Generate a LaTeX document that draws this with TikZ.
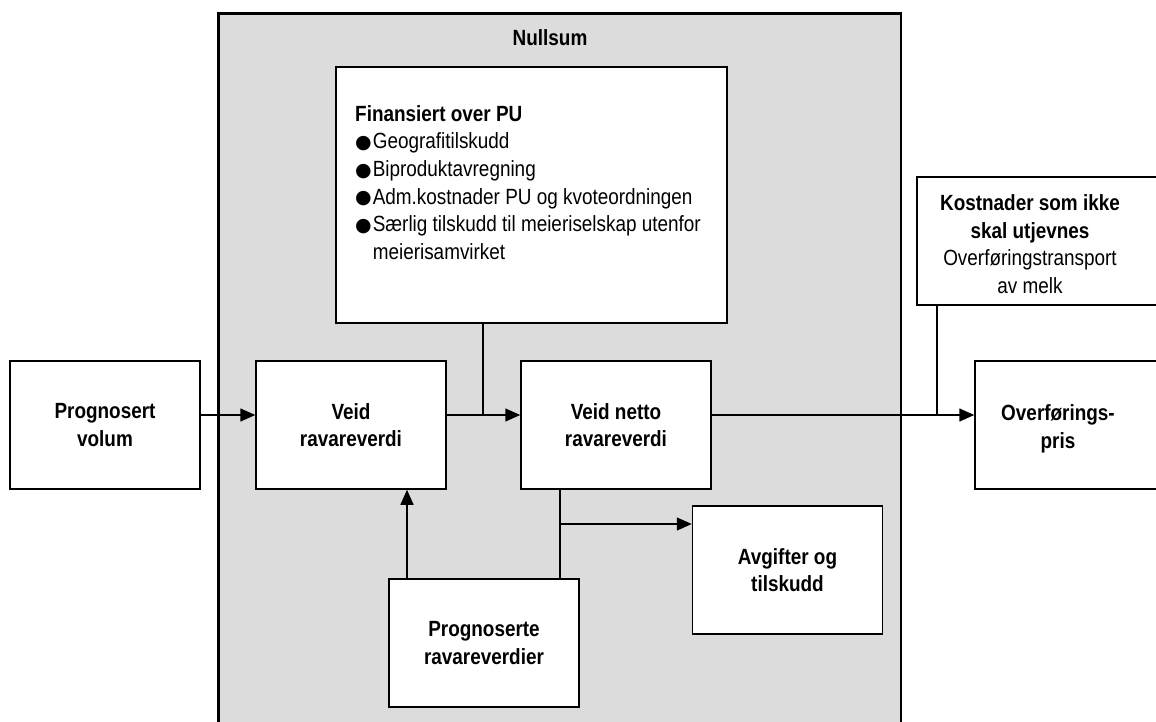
\documentclass[tikz,border=0pt]{standalone}
\usepackage{fontspec}
\setmainfont{Liberation Sans}[FakeStretch=0.86]
\newfontfamily\bulfont{DejaVu Sans}
\usetikzlibrary{arrows.meta,calc}
\definecolor{bggray}{RGB}{220,220,220}
\newcommand{\bulmark}{\raisebox{0.5pt}{\bulfont\fontsize{19}{19}\selectfont ●}\hspace{1pt}}
\begin{document}
\begin{tikzpicture}[x=1pt,y=-1pt,
  txt/.style={font=\fontsize{22}{27.7}\selectfont, align=center, inner sep=0pt},
  box/.style={draw, line width=1.5pt, fill=white, minimum width=190pt, minimum height=128pt, inner sep=0pt, align=center, font=\fontsize{22}{27.7}\selectfont\bfseries},
  ln/.style={line width=1.5pt},
  arr/.style={line width=1.5pt, -{Triangle[length=15pt,width=13pt]}}
]
\useasboundingbox (0,0) rectangle (1156,721);
% Nullsum area
\path[fill=bggray, draw, line width=2.8pt] (218.5,13.5) -- (901,13.5) -- (901,740) -- (218.5,740) -- cycle;
\node[txt, font=\fontsize{22}{27.7}\selectfont\bfseries, anchor=base] (ns) at (550,45) {Nullsum};

% Finansiert box
\node[box, minimum width=391pt, minimum height=256pt] (fin) at (531.5,195) {};
\node[txt, align=left, anchor=north west] (fint) at (355,105) {{\bfseries Finansiert over PU}\\
\bulmark Geografitilskudd\\
\bulmark Biproduktavregning\\
\bulmark Adm.kostnader PU og kvoteordningen\\
\bulmark Særlig tilskudd til meieriselskap utenfor\\
\hphantom{\bulmark}meierisamvirket};

% Kostnader box
\node[box, minimum width=260pt] (ko) at (1047,241) {};
\node[txt, anchor=center] (kot) at (1030,244) {{\bfseries Kostnader som ikke}\\{\bfseries skal utjevnes}\\Overføringstransport\\av melk};

% main row
\node[box] (pv) at (105,425) {Prognosert\\volum};
\node[box] (vr) at (351,425) {Veid\\ravareverdi};
\node[box] (vn) at (616,425) {Veid netto\\ravareverdi};
\node[box, minimum width=200pt] (op) at (1075,425) {};
\node[txt, font=\fontsize{22}{27.7}\selectfont\bfseries] (opt) at (1058,429) {Overførings-\\pris};

% lower boxes
\node[box] (pr) at (484,643) {Prognoserte\\ravareverdier};
\node[box] (av) at (787.5,570) {Avgifter og\\tilskudd};

% helper coordinates
\coordinate (yl) at (0,415);
\coordinate (fx) at (483,0);
\coordinate (kx) at (937,0);
\coordinate (ux) at (407,0);
\coordinate (dx) at (560,0);
\coordinate (by) at (0,524);

% connectors
\draw[arr] (pv.east |- yl) -- (vr.west |- yl);
\draw[arr] (vr.east |- yl) -- (vn.west |- yl);
\draw[ln] (fin.south -| fx) -- (fx |- yl);
\draw[arr] (vn.east |- yl) -- (op.west |- yl);
\draw[ln] (ko.south -| kx) -- (kx |- yl);
\draw[arr] (pr.north -| ux) -- (vr.south -| ux);
\draw[ln] (vn.south -| dx) -- (pr.north -| dx);
\draw[arr] (dx |- by) -- (av.west |- by);
\end{tikzpicture}
\end{document}
